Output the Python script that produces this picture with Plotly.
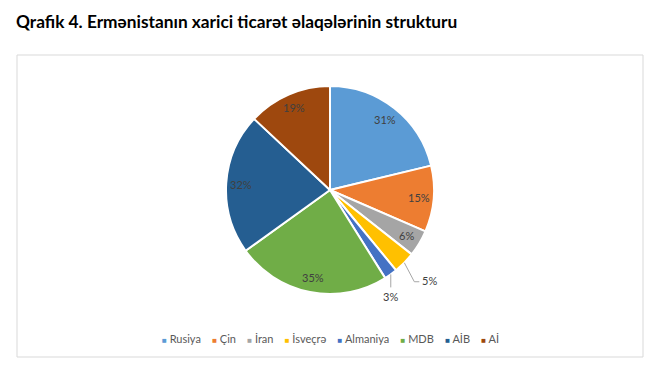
import math
import plotly.graph_objects as go

labels = ["Rusiya", "Çin", "İran", "İsveçrə", "Almaniya", "MDB", "AİB", "Aİ"]
values = [31, 15, 6, 5, 3, 35, 32, 19]
colors = ["#5B9BD5", "#ED7D31", "#A5A5A5", "#FFC000", "#4472C4", "#70AD47", "#255E91", "#9E480E"]
outside = [False, False, False, True, True, False, False, False]

W, H = 660, 376
cx, cy, r = 330, 190, 104
FONT = "Lato, Noto Sans, sans-serif"
LABEL_FONT = dict(family=FONT, size=11, color="#404040")


def px(x):
    return x / W


def py(y):
    return (H - y) / H


fig = go.Figure(go.Pie(
    labels=labels,
    values=values,
    textinfo="none",
    sort=False,
    direction="clockwise",
    rotation=0,
    marker=dict(colors=colors, line=dict(color="white", width=2)),
    domain=dict(x=[px(cx - r), px(cx + r)], y=[py(cy + r), py(cy - r)]),
    showlegend=False,
    hoverinfo="label+percent",
))

# data labels derived from slice mid-angles
total = sum(values)
shapes = [dict(type="rect", xref="paper", yref="paper",
               x0=px(17), x1=px(643), y0=py(357), y1=py(55),
               line=dict(color="#D9D9D9", width=1), layer="below")]
annotations = []
cum = 0
for lab, v, o in zip(labels, values, outside):
    mid = (cum + v / 2) / total * 2 * math.pi
    cum += v
    s, c = math.sin(mid), math.cos(mid)
    if not o:
        d = 0.86 * r
        annotations.append(dict(text=f"{v}%", xref="paper", yref="paper",
                                x=px(cx + d * s), y=py(cy - d * c),
                                xanchor="center", yanchor="middle",
                                showarrow=False, font=LABEL_FONT))
        continue
    ex = cx + r * s
    ey = cy - r * c
    if lab == "İsveçrə":
        path = (f"M {px(ex)},{py(ey)} L {px(ex + 10)},{py(ey + 19)} "
                f"L {px(ex + 15)},{py(ey + 19)}")
        annotations.append(dict(text=f"{v}%", xref="paper", yref="paper",
                                x=px(ex + 16), y=py(ey + 18), xanchor="left", yanchor="middle",
                                showarrow=False, font=LABEL_FONT))
    else:
        path = f"M {px(ex)},{py(ey)} L {px(ex)},{py(ey + 13)}"
        annotations.append(dict(text=f"{v}%", xref="paper", yref="paper",
                                x=px(ex), y=py(ey + 22), xanchor="center", yanchor="middle",
                                showarrow=False, font=LABEL_FONT))
    shapes.append(dict(type="path", xref="paper", yref="paper", path=path,
                       line=dict(color="#A6A6A6", width=1)))

# legend built as a single text line
nb = "\u00a0"
items = []
for lab, col in zip(labels, colors):
    items.append(f"<span style='color:{col};font-size:8px'>■</span>{nb}{lab}")
legend_text = (nb * 4).join(items)
annotations.append(dict(text=legend_text, xref="paper", yref="paper",
                        x=px(331), y=py(338), xanchor="center", yanchor="middle",
                        showarrow=False, font=dict(family=FONT, size=11, color="#595959")))

annotations.append(dict(text="<b>Qrafik 4. Ermənistanın xarici ticarət əlaqələrinin strukturu</b>",
                        xref="paper", yref="paper", x=px(14), y=py(22),
                        xanchor="left", yanchor="middle", showarrow=False,
                        font=dict(family=FONT, size=17.3, color="#000000")))

fig.update_layout(
    width=W, height=H,
    margin=dict(l=0, r=0, t=0, b=0),
    paper_bgcolor="white",
    plot_bgcolor="white",
    shapes=shapes,
    annotations=annotations,
)

fig.write_html("out.html", config={"displayModeBar": False},
               post_script="document.body.style.margin='0';")
